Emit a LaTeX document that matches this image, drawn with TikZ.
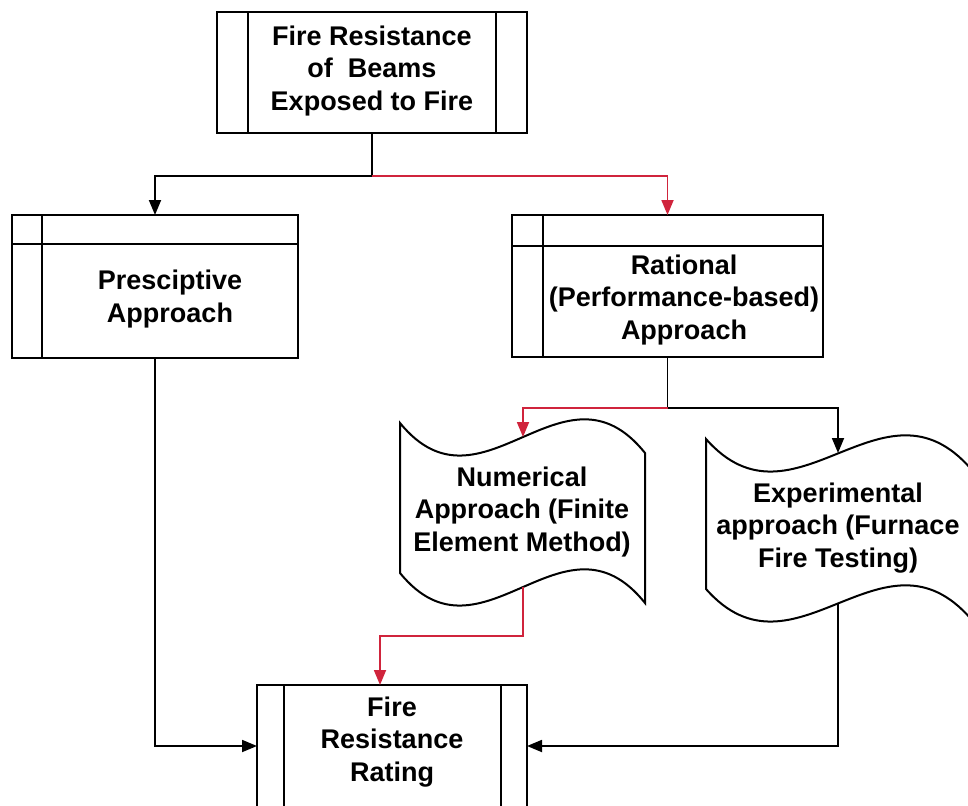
\documentclass[tikz,border=0pt]{standalone}
\usepackage{fontspec}
\setmainfont{Liberation Sans}
\usetikzlibrary{arrows.meta}
\definecolor{redline}{RGB}{208,36,60}
\begin{document}
\begin{tikzpicture}[x=1pt,y=-1pt,
  box/.style={draw=black, line width=2pt, fill=white, inner sep=0pt, outer sep=0pt, anchor=north west},
  lbl/.style={font=\bfseries\fontsize{27}{32.5}\selectfont, align=center, text=black, inner sep=0pt},
  tapeline/.style={draw=black, line width=2pt, fill=white},
  wire/.style={line width=1.8pt, black},
  conn/.style={line width=1.8pt, black, -{Triangle[length=15pt,width=12pt]}},
  rconn/.style={line width=1.8pt, redline, -{Triangle[length=15pt,width=12pt]}},
  rwire/.style={line width=1.8pt, redline},
]
\useasboundingbox (0,0) rectangle (968,805);

% top box
\node[box, minimum width=310pt, minimum height=121pt] (top) at (217,12) {};
\draw[line width=2pt] ([xshift=31pt]top.north west) -- ([xshift=31pt]top.south west);
\draw[line width=2pt] ([xshift=-31pt]top.north east) -- ([xshift=-31pt]top.south east);
\node[lbl] (toptext) at (372,71) {Fire Resistance\\of\ \ Beams\\Exposed to Fire};

% prescriptive box
\node[box, minimum width=286pt, minimum height=143pt] (pres) at (12,215) {};
\draw[line width=2pt] ([xshift=30pt]pres.north west) -- ([xshift=30pt]pres.south west);
\draw[line width=2pt] ([yshift=-29pt]pres.north west) -- ([yshift=-29pt]pres.north east);
\node[lbl] (prestext) at (170,299) {Presciptive\\Approach};

% rational box
\node[box, minimum width=311pt, minimum height=142pt] (rat) at (512,215) {};
\draw[line width=2pt] ([xshift=31pt]rat.north west) -- ([xshift=31pt]rat.south west);
\draw[line width=2pt] ([yshift=-31pt]rat.north west) -- ([yshift=-31pt]rat.north east);
\node[lbl] (rattext) at (684,300) {Rational\\(Performance-based)\\Approach};

% numerical tape
\draw[tapeline] (400,423) .. controls (481.7,523) and (563.3,351) .. (645,453)
  -- (645,603) .. controls (563.3,501) and (481.7,673) .. (400,573) -- cycle;
\node[lbl] (num) at (522,512) {Numerical\\Approach (Finite\\Element Method)};
\coordinate (numin) at (523,437);
\coordinate (numout) at (523,587);

% experimental tape
\draw[tapeline] (706,439) .. controls (794.3,539) and (882.7,367) .. (971,469)
  -- (971,619) .. controls (882.7,517) and (794.3,689) .. (706,589) -- cycle;
\node[lbl] (exp) at (838,528) {Experimental\\approach (Furnace\\Fire Testing)};
\coordinate (expin) at (838,453);
\coordinate (expout) at (838,603);

% bottom box
\node[box, minimum width=270pt, minimum height=122pt] (fr) at (257,685) {};
\draw[line width=2pt] ([xshift=27pt]fr.north west) -- ([xshift=27pt]fr.south west);
\draw[line width=2pt] ([xshift=-26pt]fr.north east) -- ([xshift=-26pt]fr.south east);
\node[lbl] (frtext) at (392,742) {Fire\\Resistance\\Rating};
\coordinate (frin) at (380,685);

% connectors
\coordinate (split1) at (372,176);
\coordinate (split2) at (667.5,408);
\coordinate (bend3) at (523,636);
\draw[wire] (top.south) -- (split1);
\draw[conn] (split1) -| (pres.north);
\draw[rconn] (split1) -| (rat.north);
\draw[wire] (rat.south) -- (split2);
\draw[rconn] (split2) -| (numin);
\draw[conn] (split2) -| (expin);
\draw[rconn] (numout) -- (bend3) -| (frin);
\draw[conn] (pres.south) |- (fr.west);
\draw[conn] (expout) |- (fr.east);
\end{tikzpicture}
\end{document}
